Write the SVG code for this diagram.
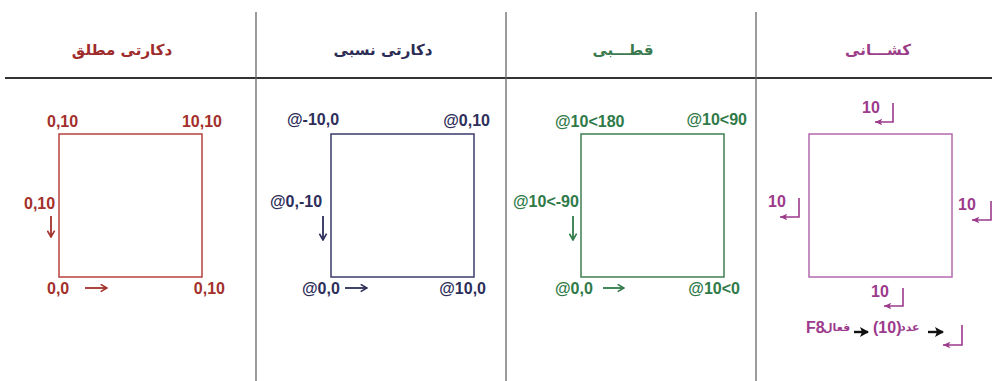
<svg xmlns="http://www.w3.org/2000/svg" width="992" height="381" viewBox="0 0 992 381">
<defs>
<style>
.t{font-family:"Liberation Sans",Arial,sans-serif;font-weight:bold;font-size:16px}
.h{font-family:"DejaVu Sans","Noto Sans",sans-serif;font-weight:bold;font-size:15px;text-anchor:middle}
.s{font-family:"DejaVu Sans","Noto Sans",sans-serif;font-weight:bold;font-size:11px}
.sq{fill:none;stroke-width:1.5}
.ar{fill:none;stroke-width:1.8}
.rt{fill:none;stroke-width:1.6;stroke:#9c3a8c}
.red{fill:#a3302b}.blu{fill:#2d2e5a}.grn{fill:#2f7a48}.pur{fill:#9c3a8c}
</style>
<marker id="mrR" viewBox="0 0 10 10" refX="9" refY="5" markerWidth="9" markerHeight="9" orient="auto" markerUnits="userSpaceOnUse"><path d="M2,1 L9,5 L2,9" fill="none" stroke="#a3302b" stroke-width="1.8"/></marker>
<marker id="mrB" viewBox="0 0 10 10" refX="9" refY="5" markerWidth="9" markerHeight="9" orient="auto" markerUnits="userSpaceOnUse"><path d="M2,1 L9,5 L2,9" fill="none" stroke="#2d2e5a" stroke-width="1.8"/></marker>
<marker id="mrG" viewBox="0 0 10 10" refX="9" refY="5" markerWidth="9" markerHeight="9" orient="auto" markerUnits="userSpaceOnUse"><path d="M2,1 L9,5 L2,9" fill="none" stroke="#2f7a48" stroke-width="1.8"/></marker>
<marker id="mp" viewBox="0 0 10 10" refX="10" refY="5" markerWidth="8" markerHeight="8" orient="auto" markerUnits="userSpaceOnUse"><path d="M10,5 L1,1 L3,5 L1,9 Z" fill="#9c3a8c"/></marker>
<marker id="mk" viewBox="0 0 10 10" refX="9" refY="5" markerWidth="10" markerHeight="10" orient="auto" markerUnits="userSpaceOnUse"><path d="M10,5 L1,0 L3,5 L1,10 Z" fill="#111"/></marker>
</defs>
<rect width="992" height="381" fill="#ffffff"/>
<g id="frame">
<line x1="5" y1="78" x2="992" y2="78" stroke="#333" stroke-width="2"/>
<line x1="256" y1="12" x2="256" y2="381" stroke="#666" stroke-width="1.3"/>
<line x1="506" y1="12" x2="506" y2="381" stroke="#666" stroke-width="1.3"/>
<line x1="756" y1="12" x2="756" y2="381" stroke="#666" stroke-width="1.3"/>
</g>
<g id="panel-absolute">
<text class="h" x="122" y="55" fill="#9e2b2b">دکارتی مطلق</text>
<rect class="sq" x="59" y="134" width="143" height="143" stroke="#b5413c"/>
<text class="t red" x="47" y="127">0,10</text>
<text class="t red" x="222" y="127" text-anchor="end">10,10</text>
<text class="t red" x="24" y="209">0,10</text>
<text class="t red" x="47" y="294">0,0</text>
<text class="t red" x="225" y="294" text-anchor="end">0,10</text>
</g>
<g id="panel-relative">
<text class="h" x="383" y="55" fill="#2b2c55">دکارتی نسبی</text>
<rect class="sq" x="331" y="134" width="143" height="143" stroke="#3a3b6b"/>
<text class="t blu" x="287" y="125">@-10,0</text>
<text class="t blu" x="490" y="126" text-anchor="end">@0,10</text>
<text class="t blu" x="270" y="207">@0,-10</text>
<text class="t blu" x="302" y="294">@0,0</text>
<text class="t blu" x="486" y="294" text-anchor="end">@10,0</text>
</g>
<g id="panel-polar">
<text class="h" x="623" y="55" fill="#3a7a4e">قطـــبی</text>
<rect class="sq" x="581" y="134" width="143" height="143" stroke="#3f7f52"/>
<text class="t grn" x="555" y="127">@10&lt;180</text>
<text class="t grn" x="747" y="125" text-anchor="end">@10&lt;90</text>
<text class="t grn" x="513" y="207">@10&lt;-90</text>
<text class="t grn" x="555" y="294">@0,0</text>
<text class="t grn" x="740" y="294" text-anchor="end">@10&lt;0</text>
</g>
<g id="panel-direct">
<text class="h" x="878" y="55" fill="#9b3d88">کشـــانی</text>
<rect class="sq" x="809" y="134" width="143" height="143" stroke="#b468b0"/>
<text class="t pur" x="862" y="113">10</text>
<text class="t pur" x="768" y="207">10</text>
<text class="t pur" x="958" y="210">10</text>
<text class="t pur" x="871" y="297">10</text>
<text class="t pur" x="806" y="333">F8</text>
<text class="s pur" x="823" y="331">فعال</text>
<text class="t pur" x="873" y="333">(10)</text>
<text class="s pur" x="900" y="331">عدد</text>
</g>
<g id="connectors">
<line class="ar" x1="51" y1="216" x2="51" y2="237" stroke="#a3302b" marker-end="url(#mrR)"/>
<line class="ar" x1="85" y1="288" x2="107" y2="288" stroke="#a3302b" marker-end="url(#mrR)"/>
<line class="ar" x1="323" y1="216" x2="323" y2="240" stroke="#2d2e5a" marker-end="url(#mrB)"/>
<line class="ar" x1="345" y1="288" x2="367" y2="288" stroke="#2d2e5a" marker-end="url(#mrB)"/>
<line class="ar" x1="573" y1="216" x2="573" y2="240" stroke="#2f7a48" marker-end="url(#mrG)"/>
<line class="ar" x1="603" y1="288" x2="624" y2="288" stroke="#2f7a48" marker-end="url(#mrG)"/>
<path class="rt" d="M893,103 V122 H875" marker-end="url(#mp)"/>
<path class="rt" d="M799,198 V217 H780" marker-end="url(#mp)"/>
<path class="rt" d="M991,201 V220 H972" marker-end="url(#mp)"/>
<path class="rt" d="M903,288 V306 H884" marker-end="url(#mp)"/>
<path class="rt" d="M962,325 V345 H943" marker-end="url(#mp)"/>
<line x1="928" y1="332" x2="943" y2="332" stroke="#111" stroke-width="2.4" marker-end="url(#mk)"/>
<line x1="854" y1="332" x2="868" y2="332" stroke="#111" stroke-width="2.4" marker-end="url(#mk)"/>
</g>
</svg>
